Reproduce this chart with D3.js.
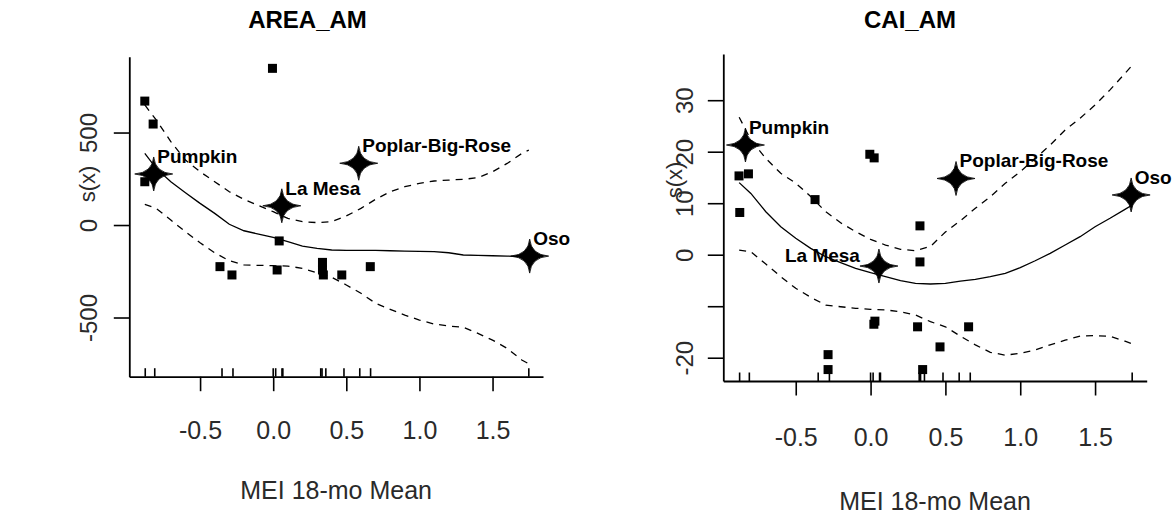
<!DOCTYPE html>
<html>
<head>
<meta charset="utf-8">
<script src="https://cdn.jsdelivr.net/npm/d3@7"></script>
<style>
  body { margin: 0; background: #fff; }
  svg { display: block; }
</style>
</head>
<body>
<svg id="chart" width="1173" height="514"></svg>
<script>
// ---- data -------------------------------------------------------------
// MEI 18-month mean of every site (rug marks along the x axis)
const rugX = [-0.875, -0.81, -0.35, -0.275, 0.0, 0.017, 0.06, 0.066,
              0.325, 0.334, 0.36, 0.484, 0.592, 0.666, 1.748];

// x positions at which the smooth term and its bands are evaluated
const gridX = [-0.878, -0.8, -0.7, -0.6, -0.5, -0.4, -0.3, -0.2, -0.1, 0.0,
               0.1, 0.2, 0.3, 0.4, 0.5, 0.6, 0.7, 0.8, 0.9, 1.0,
               1.1, 1.2, 1.3, 1.4, 1.5, 1.6, 1.7, 1.748];

// AREA_AM smooth s(x) with upper / lower bands
const areaFit   = [387, 306, 234, 175, 117, 63, 4, -31, -49, -67,
                   -90, -114, -126, -135, -137, -137, -137, -139, -141, -142,
                   -144, -150, -162, -164, -166, -168, -171, -171];
const areaUpper = [649, 568, 451, 351, 288, 234, 180, 139, 105, 72,
                   36, 18, 13, 18, 49, 90, 139, 180, 207, 225,
                   238, 243, 247, 256, 288, 333, 387, 405];
const areaLower = [112, 90, 27, -36, -96, -150, -193, -216, -218, -220,
                   -222, -234, -258, -283, -324, -369, -423, -456, -487, -514,
                   -535, -546, -553, -586, -622, -667, -730, -750];
// AREA_AM partial residuals
const areaPtsX = [-0.878, -0.821, -0.878, -0.005, 0.041, 0.027, -0.364, -0.282,
                  0.337, 0.337, 0.343, 0.469, 0.664];
const areaPtsY = [670, 546, 234, 847, -86, -243, -225, -270,
                  -202, -243, -270, -270, -225];

// CAI_AM smooth s(x) with upper / lower bands
const caiFit   = [14.0, 11.9, 8.35, 5.44, 3.18, 1.24, -0.39, -1.55, -2.64, -3.5,
                  -4.27, -5.05, -5.56, -5.69, -5.56, -5.11, -4.79, -4.27, -3.62, -2.52,
                  -1.17, 0.26, 1.88, 3.5, 5.44, 7.07, 8.8, 9.65];
const caiUpper = [26.7, 22.3, 18.7, 15.8, 13.9, 11.3, 8.35, 6.2, 4.47, 2.98,
                  1.88, 1.04, 0.78, 1.6, 4.4, 6.6, 9.0, 11.26, 13.86, 16.1,
                  18.7, 21.3, 24.2, 26.5, 29.07, 32.0, 35.2, 36.8];
const caiLower = [0.91, 0.58, -1.81, -4.27, -6.52, -8.27, -9.77, -10.1, -10.4, -10.6,
                  -10.7, -11.1, -11.7, -13.0, -14.0, -15.8, -17.5, -18.95, -19.5, -19.15,
                  -18.5, -17.5, -16.6, -15.8, -15.7, -15.85, -16.8, -17.3];
// CAI_AM partial residuals
const caiPtsX = [-0.879, -0.816, -0.874, -0.371, -0.005, 0.024, 0.33, 0.33,
                 0.029, 0.022, 0.314, 0.464, -0.284, -0.284, 0.348, 0.655];
const caiPtsY = [15.3, 15.7, 8.2, 10.7, 19.5, 18.8, 5.6, -1.4,
                 -12.9, -13.5, -14.0, -17.9, -19.4, -22.3, -22.3, -14.0];

// highlighted sites
const siteNames = ["Pumpkin", "La Mesa", "Poplar-Big-Rose", "Oso"];
const areaSiteX = [-0.817, 0.059, 0.585, 1.754];
const areaSiteY = [276, 104, 334, -168];
const caiSiteX  = [-0.836, 0.056, 0.571, 1.741];
const caiSiteY  = [21.3, -2.2, 14.8, 11.6];
const areaLabelSide = ["right", "right", "right", "right"];
const caiLabelSide  = ["right", "left", "right", "right"];

// ticks
const xTicks = [-0.5, 0.0, 0.5, 1.0, 1.5];
const xTickLabels = ["-0.5", "0.0", "0.5", "1.0", "1.5"];
const areaYTicks = [-500, 0, 500];
const areaYTickLabels = ["-500", "0", "500"];
const caiYTicks = [-20, -10, 0, 10, 20, 30];
const caiYTickLabels = ["-20", "", "0", "10", "20", "30"];

// ---- drawing ----------------------------------------------------------
const svg = d3.select("#chart");
const FONT = "'Liberation Sans', Arial, Helvetica, sans-serif";
const TEXT_GREY = "#2a2a2a";

// four-pointed star with concave sides
function starPath(rx, ry, k) {
  return `M${rx},0 Q${k},${k} 0,${ry} Q${-k},${k} ${-rx},0 ` +
         `Q${-k},${-k} 0,${-ry} Q${k},${-k} ${rx},0 Z`;
}

function drawPanel(p, id) {
  const x = d3.scaleLinear().domain([-0.984, 1.845]).range([p.left, p.right]);
  const y = d3.scaleLinear().domain(p.yDomain).range([p.bottom, p.top]);
  const g = svg.append("g");

  g.append("defs").append("clipPath").attr("id", id)
    .append("rect").attr("x", p.left).attr("y", p.top)
    .attr("width", p.right - p.left).attr("height", p.bottom - p.top);

  const plot = g.append("g").attr("clip-path", `url(#${id})`);
  const line = d3.line().x(d => x(d[0])).y(d => y(d[1]));
  const series = [[p.fit, null], [p.upper, "7,6"], [p.lower, "7,6"]];
  series.forEach(([vals, dash]) => {
    plot.append("path")
      .datum(gridX.map((gx, i) => [gx, vals[i]]))
      .attr("d", line)
      .attr("fill", "none")
      .attr("stroke", "#000")
      .attr("stroke-width", 1.3)
      .attr("stroke-dasharray", dash);
  });

  // residual points
  const sq = 9;
  plot.selectAll("rect.pt")
    .data(p.ptsX.map((px, i) => [px, p.ptsY[i]]))
    .join("rect")
    .attr("class", "pt")
    .attr("x", d => x(d[0]) - sq / 2)
    .attr("y", d => y(d[1]) - sq / 2)
    .attr("width", sq).attr("height", sq)
    .attr("fill", "#000");

  // rug
  g.selectAll("line.rug")
    .data(rugX)
    .join("line")
    .attr("class", "rug")
    .attr("x1", d => x(d)).attr("x2", d => x(d))
    .attr("y1", p.bottom).attr("y2", p.bottom - 8.5)
    .attr("stroke", "#000").attr("stroke-width", 1.6);

  // x axis
  const xa = g.append("g")
    .attr("transform", `translate(0,${p.bottom})`)
    .call(d3.axisBottom(x).tickValues(xTicks)
      .tickFormat((d, i) => xTickLabels[i]).tickSize(14.5).tickSizeOuter(0));
  xa.select(".domain").attr("stroke-width", 1.8);
  xa.selectAll(".tick line").attr("stroke-width", 1.6);
  xa.selectAll(".tick text")
    .attr("y", p.xTickBase - p.bottom).attr("dy", 0)
    .attr("font-size", 25).attr("font-family", FONT).attr("fill", TEXT_GREY);

  // y axis
  const ya = g.append("g")
    .attr("transform", `translate(${p.left},0)`)
    .call(d3.axisLeft(y).tickValues(p.yTicks)
      .tickFormat((d, i) => p.yTickLabels[i]).tickSize(15.5).tickSizeOuter(0));
  ya.select(".domain").attr("stroke-width", 1.8);
  ya.selectAll(".tick line").attr("stroke-width", 1.6);
  ya.selectAll(".tick text")
    .attr("x", 0).attr("dy", 0)
    .attr("transform", `translate(${p.yTickBase - p.left},0) rotate(-90)`)
    .attr("text-anchor", "middle")
    .attr("font-size", 24).attr("font-family", FONT).attr("fill", TEXT_GREY);

  // stars and site labels
  const sites = p.siteX.map((sx, i) => ({ x: sx, y: p.siteY[i], name: siteNames[i], side: p.side[i] }));
  g.selectAll("path.star")
    .data(sites)
    .join("path")
    .attr("class", "star")
    .attr("transform", d => `translate(${x(d.x)},${y(d.y)})`)
    .attr("d", starPath(19, 17, 1.4))
    .attr("fill", "#000")
    .attr("stroke", "#000").attr("stroke-width", 0.8);
  g.selectAll("text.site")
    .data(sites)
    .join("text")
    .attr("class", "site")
    .attr("x", d => d.side === "left" ? x(d.x) - 19 : x(d.x) + 3.5)
    .attr("y", d => d.side === "left" ? y(d.y) - 4 : y(d.y) - 11)
    .attr("text-anchor", d => d.side === "left" ? "end" : "start")
    .attr("font-family", FONT).attr("font-weight", "bold").attr("font-size", 19)
    .attr("fill", "#000")
    .text(d => d.name);

  // titles
  g.append("text")
    .attr("x", p.titleX).attr("y", 27.5)
    .attr("text-anchor", "middle")
    .attr("font-family", FONT).attr("font-weight", "bold").attr("font-size", 24)
    .text(p.title);
  g.append("text")
    .attr("x", (p.left + p.right) / 2).attr("y", p.xTitleBase)
    .attr("text-anchor", "middle")
    .attr("font-family", FONT).attr("font-size", 25).attr("fill", TEXT_GREY)
    .text("MEI 18-mo Mean");
  g.append("text")
    .attr("transform", `translate(${p.sxX},${p.sxY}) rotate(-90)`)
    .attr("text-anchor", "middle")
    .attr("font-family", FONT).attr("font-size", 22).attr("fill", TEXT_GREY)
    .text("s(x)");
}

drawPanel({
  title: "AREA_AM", titleX: 307.5,
  left: 129.3, right: 543, top: 56.7, bottom: 376.7,
  yDomain: [-820, 910],
  yTicks: areaYTicks, yTickLabels: areaYTickLabels,
  fit: areaFit, upper: areaUpper, lower: areaLower,
  ptsX: areaPtsX, ptsY: areaPtsY,
  siteX: areaSiteX, siteY: areaSiteY, side: areaLabelSide,
  xTickBase: 439, xTitleBase: 499, yTickBase: 96.7, sxX: 95, sxY: 184
}, "clipArea");

drawPanel({
  title: "CAI_AM", titleX: 910,
  left: 723.3, right: 1146.7, top: 54, bottom: 381,
  yDomain: [-24.52, 38.97],
  yTicks: caiYTicks, yTickLabels: caiYTickLabels,
  fit: caiFit, upper: caiUpper, lower: caiLower,
  ptsX: caiPtsX, ptsY: caiPtsY,
  siteX: caiSiteX, siteY: caiSiteY, side: caiLabelSide,
  xTickBase: 446, xTitleBase: 510, yTickBase: 692.7, sxX: 682, sxY: 180
}, "clipCai");
</script>
</body>
</html>
